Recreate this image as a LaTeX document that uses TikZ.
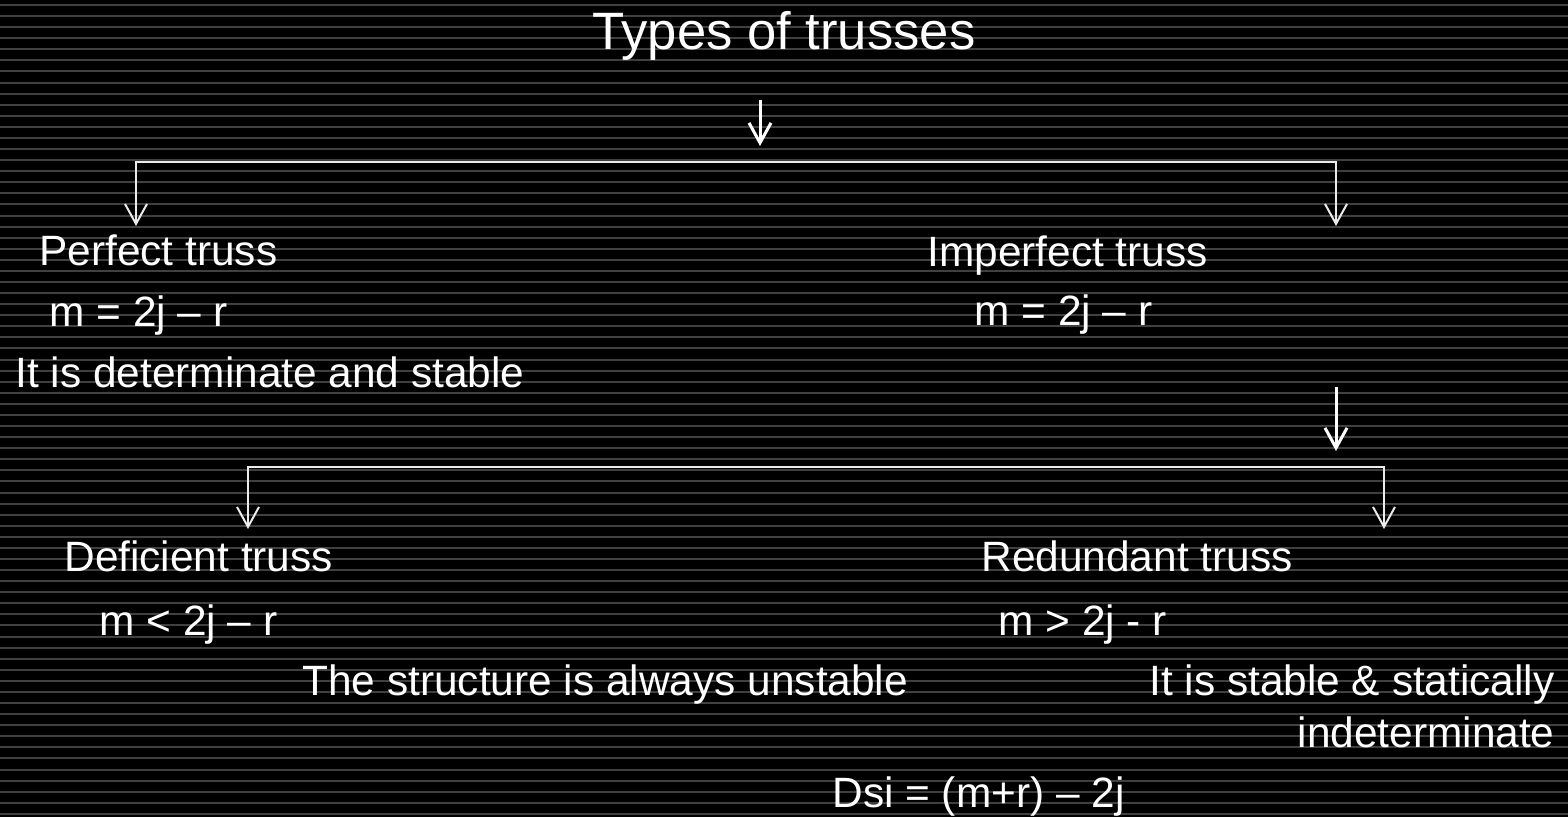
\documentclass[tikz,border=0pt]{standalone}
\usepackage{fontspec}
\setmainfont{Liberation Sans}
\usetikzlibrary{arrows.meta}
\begin{document}
\begin{tikzpicture}[x=0.5pt,y=-0.5pt,
  txt/.style={text=white,inner sep=0pt,anchor=base west,font=\fontsize{21.2}{25}\selectfont},
  ttl/.style={text=white,inner sep=0pt,anchor=base west,font=\fontsize{26.3}{31}\selectfont},
  conn/.style={draw=white!92!black,line width=1pt,line cap=rect},
  arr/.style={draw=white!92!black,line width=1pt,-{Straight Barb[length=10pt,width=11pt,line width=1pt]}},
  bigarr/.style={draw=white,line width=1.5pt,-{Straight Barb[length=10pt,width=11pt,line width=1.5pt]}},
  stripe/.style={draw=black!75,line width=1pt}]
\useasboundingbox (0,0) rectangle (1568,817);
\fill[black] (0,0) rectangle (1568,817);
\foreach \i in {0,...,73}{\draw[stripe] (0,{5+11.08*\i}) -- (1568,{5+11.08*\i});}
% texts
\node[ttl] (title) at (592,50) {Types of trusses};
\node[txt] (perf) at (39,266) {Perfect truss};
\node[txt] (perfeq) at (49,327) {m = 2j – r};
\node[txt] (perfst) at (15,388) {It is determinate and stable};
\node[txt] (imperf) at (927,267) {Imperfect truss};
\node[txt] (imperfeq) at (974,326) {m = 2j – r};
\node[txt] (defi) at (64,572) {Deficient truss};
\node[txt] (defieq) at (99,635) {m < 2j – r};
\node[txt] (redu) at (981,572) {Redundant truss};
\node[txt] (redueq) at (998,635) {m > 2j - r};
\node[txt] (unst) at (302,695) {The structure is always unstable};
\node[txt,anchor=base east] (stab) at (1555,695) {It is stable \& statically};
\node[txt,anchor=base east] (indet) at (1555,747) {indeterminate};
\node[txt] (dsi) at (832,807) {Dsi = (m+r) – 2j};
% connectors
\coordinate (a1s) at (760,100);
\coordinate (a1e) at (760,146);
\draw[bigarr] (a1s) -- (a1e);
\coordinate (b1l) at (136,162);
\coordinate (b1r) at (1336,162);
\coordinate (b1lt) at (136,226);
\coordinate (b1rt) at (1336,226);
\draw[conn] (b1l) -- (b1r);
\draw[arr] (b1l) -- (b1lt);
\draw[arr] (b1r) -- (b1rt);
\coordinate (a2s) at (1336,387);
\coordinate (a2e) at (1336,451);
\draw[bigarr] (a2s) -- (a2e);
\coordinate (b2l) at (248,467);
\coordinate (b2r) at (1384,467);
\coordinate (b2lt) at (248,529);
\coordinate (b2rt) at (1384,529);
\draw[conn] (b2l) -- (b2r);
\draw[arr] (b2l) -- (b2lt);
\draw[arr] (b2r) -- (b2rt);
\end{tikzpicture}
\end{document}
